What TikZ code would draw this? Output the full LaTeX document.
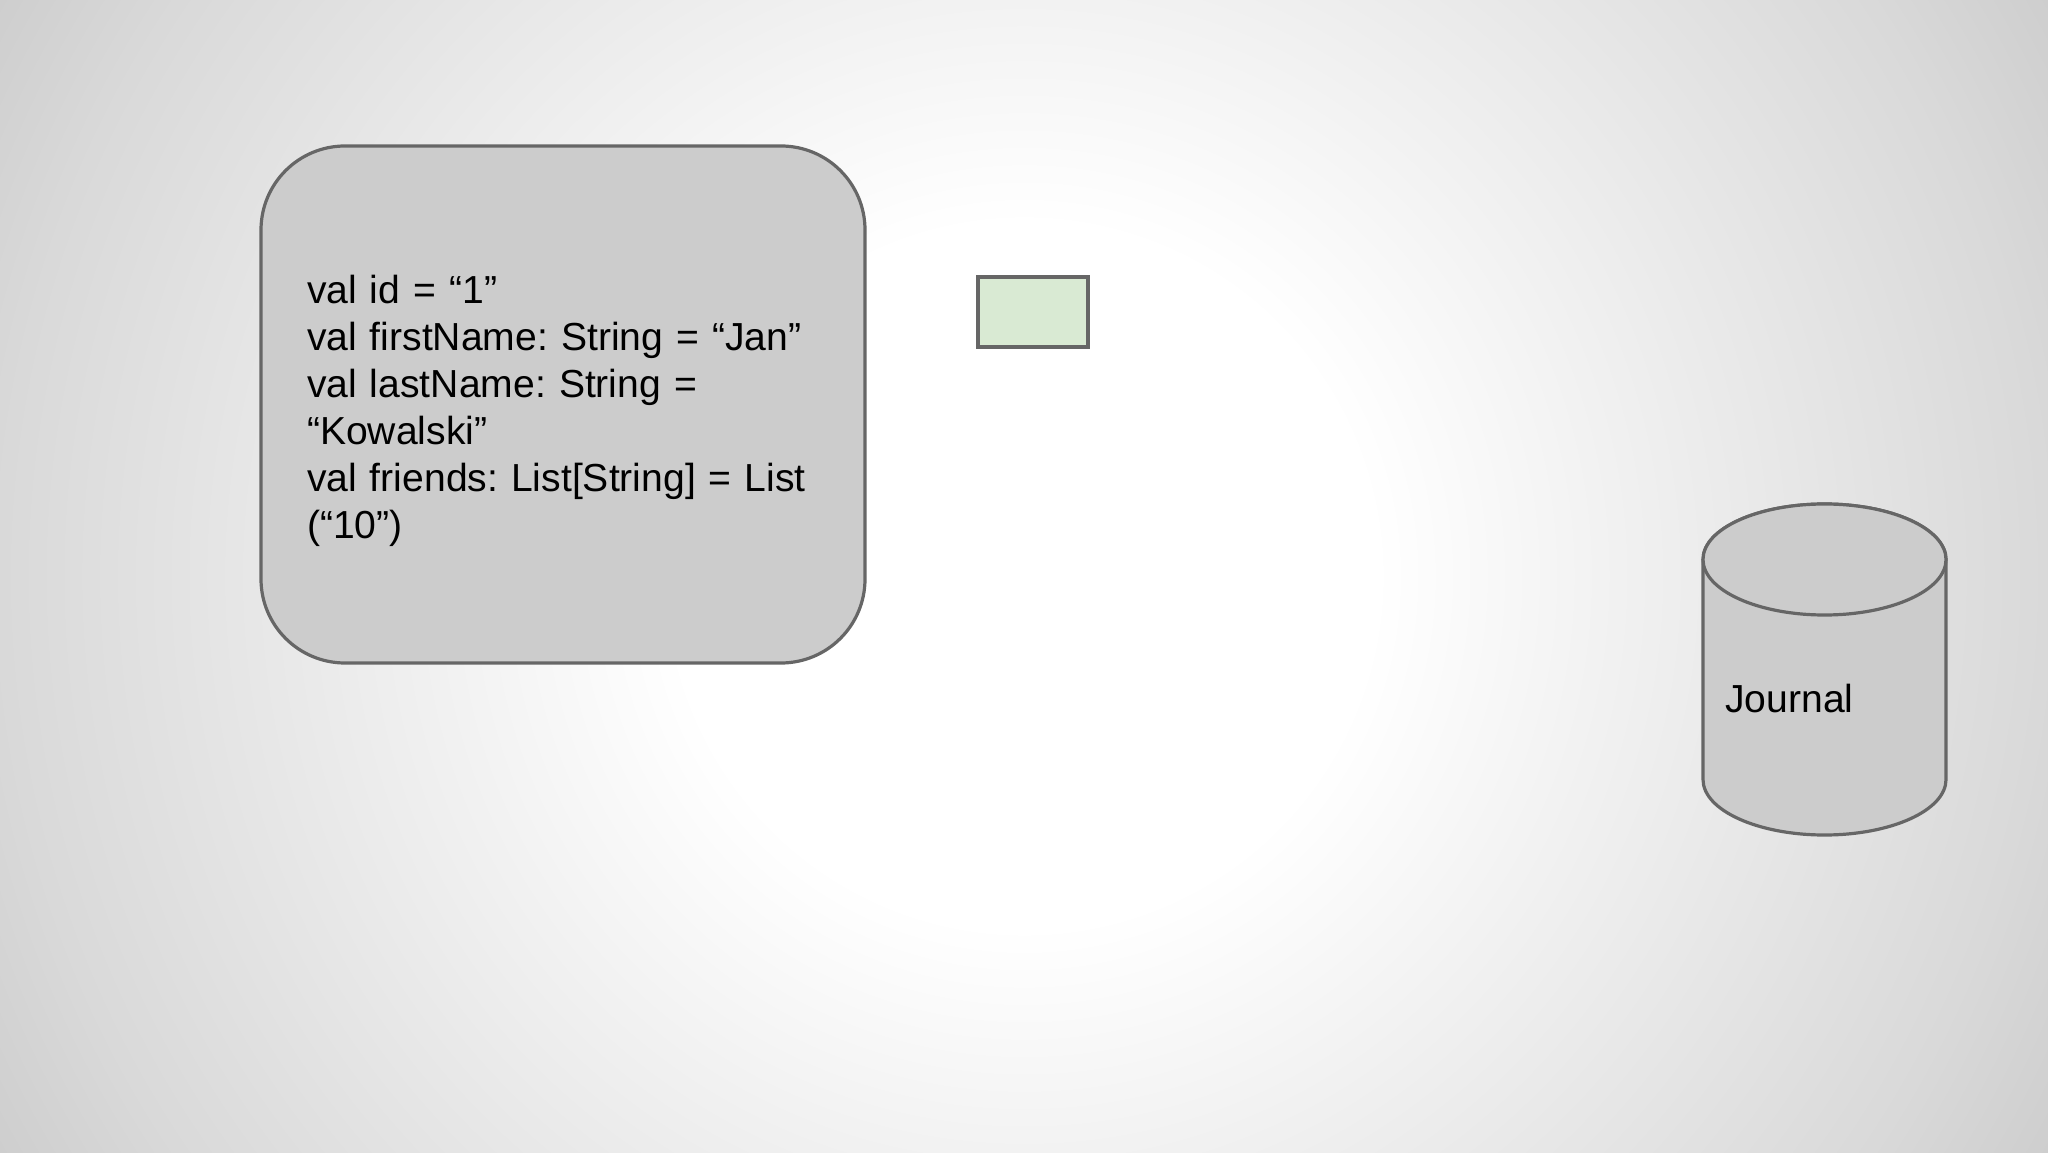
\documentclass[tikz,border=0pt]{standalone}
\usepackage{fontspec}
\setmainfont{Liberation Sans}
\usepackage{tikz}
\usetikzlibrary{shapes.geometric}
\usepackage{xcolor}
\frenchspacing

\definecolor{linegray}{HTML}{666666}
\definecolor{boxgray}{HTML}{CCCCCC}
\definecolor{eventgreen}{HTML}{D9EAD3}
\definecolor{bgmid}{HTML}{F2F2F2}
\definecolor{bgside}{HTML}{D9D9D9}
\definecolor{bgcorner}{HTML}{CECECE}
\pgfdeclareradialshading{slidebg}{\pgfpoint{0bp}{0bp}}{color(0bp)=(white); color(7.3bp)=(white); color(12bp)=(bgmid); color(21.3bp)=(bgside); color(24.5bp)=(bgcorner); color(50bp)=(bgcorner)}

\tikzset{
    slidefont/.style={font=\fontsize{19.55}{23.5}\selectfont},
    entitybox/.style={draw=linegray, fill=boxgray, line width=1.6pt, rounded corners=42pt,
        minimum width=302pt, minimum height=258.5pt, inner sep=0pt},
    fieldtext/.style={align=left, text width=256pt, inner sep=0pt, slidefont},
    eventbox/.style={draw=linegray, fill=eventgreen, line width=2pt,
        minimum width=55pt, minimum height=35pt, inner sep=0pt},
    dbshape/.style={draw=linegray, fill=boxgray, line width=1.6pt}
}

\begin{document}
\begin{tikzpicture}[x=0.5pt, y=0.5pt]
    \useasboundingbox (0,0) rectangle (2048,1152);
    % Fundo
    \begin{scope}
        \clip (0,0) rectangle (2048,1152);
        \shade[shading=slidebg] (1024,576) circle (600pt);
    \end{scope}
    % Entidade
    \node[entitybox] (entity) at (563,747.5) {};
    \node[fieldtext] (fields) at ([yshift=-3.2pt]entity.center) {val id = “1”\\
        val firstName: String = “Jan”\\
        val lastName: String =\\
        “Kowalski”\\
        val friends: List[String] = List\\
        (“10”)};
    % Evento
    \node[eventbox] (event) at (1033,840) {};
    % Journal
    \draw[dbshape] (1703,592.5) -- (1703,372.5)
        arc[start angle=180, end angle=360, x radius=60.75pt, y radius=27.75pt]
        -- (1946,592.5)
        arc[start angle=0, end angle=180, x radius=60.75pt, y radius=27.75pt] -- cycle;
    \draw[dbshape] (1824.5,592.5) ellipse [x radius=60.75pt, y radius=27.75pt];
    \node[slidefont, anchor=base west, inner sep=0pt] (journal) at (1725,440) {Journal};
\end{tikzpicture}
\end{document}
